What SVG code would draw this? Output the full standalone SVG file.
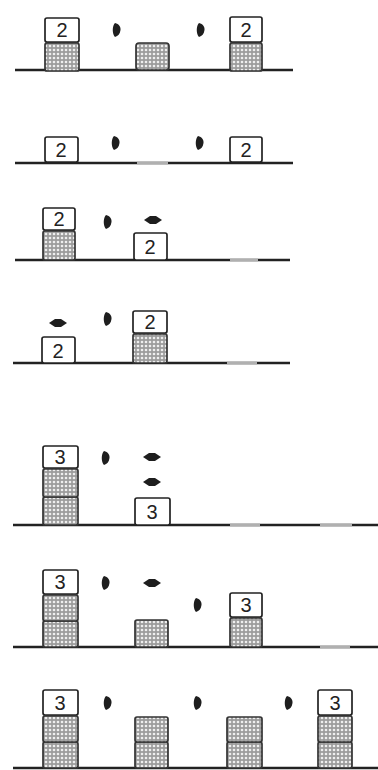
<svg xmlns="http://www.w3.org/2000/svg" width="378" height="770" viewBox="0 0 378 770">
<defs>
<pattern id="dots" width="4" height="4" patternUnits="userSpaceOnUse">
<rect width="4" height="4" fill="#9c9c9c"/>
<circle cx="2" cy="2" r="1.3" fill="#eeeeee"/>
</pattern>
<path id="vd" d="M-1,-7 C3,-6 5,-3 4.5,0 C4,4 2,6 -1,7 C-4,4 -4,-4 -1,-7 Z"/>
<polygon id="hd" points="-9,0 -3,-4 3,-4 9,0 3,4 -3,4"/>
</defs>
<style>
.lbl{fill:#fff;stroke:#222;stroke-width:1.7}
.dot{fill:url(#dots);stroke:#333;stroke-width:1.7}
.t{font-family:"Liberation Sans",Arial,sans-serif;font-size:20px;fill:#222;text-anchor:middle}
.base{stroke:#222;stroke-width:2.6;fill:none}
.gap{stroke:#b0b0b0;stroke-width:2.6;fill:none}
.mk{fill:#1e1e1e}
</style>
<rect width="378" height="770" fill="#fff"/>

<g id="baselines">
<line class="base" x1="15" y1="70" x2="293" y2="70"/>
<line class="base" x1="15" y1="163" x2="293" y2="163"/>
<line class="gap" x1="137" y1="163" x2="168" y2="163"/>
<line class="base" x1="15" y1="260" x2="290" y2="260"/>
<line class="gap" x1="230" y1="260" x2="258" y2="260"/>
<line class="base" x1="13" y1="363" x2="290" y2="363"/>
<line class="gap" x1="227" y1="363" x2="257" y2="363"/>
<line class="base" x1="13" y1="525" x2="378" y2="525"/>
<line class="gap" x1="230" y1="525" x2="260" y2="525"/>
<line class="gap" x1="320" y1="525" x2="352" y2="525"/>
<line class="base" x1="13" y1="647" x2="378" y2="647"/>
<line class="gap" x1="320" y1="647" x2="350" y2="647"/>
<line class="base" x1="13" y1="768" x2="378" y2="768"/>
</g>

<!-- Panel 1 -->
<g id="p1-left">
<rect class="dot" x="45" y="43" width="34" height="28" rx="2"/>
<rect class="lbl" x="45" y="18" width="34" height="24" rx="2"/>
<text class="t" x="62" y="37">2</text>
</g>
<g id="p1-mid"><rect class="dot" x="136" y="43" width="33" height="27" rx="3"/></g>
<g id="p1-right">
<rect class="dot" x="230" y="43" width="32" height="28" rx="2"/>
<rect class="lbl" x="230" y="17" width="32" height="25" rx="2"/>
<text class="t" x="246" y="37">2</text>
</g>
<g id="p1-m1"><use href="#vd" class="mk" x="116" y="30"/></g>
<g id="p1-m2"><use href="#vd" class="mk" x="200" y="30"/></g>

<!-- Panel 2 -->
<g id="p2-left">
<rect class="lbl" x="45" y="137" width="33" height="25" rx="2"/>
<text class="t" x="61" y="157">2</text>
</g>
<g id="p2-right">
<rect class="lbl" x="230" y="137" width="32" height="25" rx="2"/>
<text class="t" x="246" y="157">2</text>
</g>
<g id="p2-m1"><use href="#vd" class="mk" x="115" y="143"/></g>
<g id="p2-m2"><use href="#vd" class="mk" x="199" y="143"/></g>

<!-- Panel 3 -->
<g id="p3-left">
<rect class="dot" x="43" y="231" width="32" height="29" rx="2"/>
<rect class="lbl" x="43" y="208" width="32" height="22" rx="2"/>
<text class="t" x="59" y="226">2</text>
</g>
<g id="p3-mid">
<rect class="lbl" x="134" y="233" width="33" height="27" rx="2"/>
<text class="t" x="150" y="254">2</text>
</g>
<g id="p3-m1"><use href="#vd" class="mk" x="107" y="222"/></g>
<g id="p3-m2"><use href="#hd" class="mk" x="153" y="220"/></g>

<!-- Panel 4 -->
<g id="p4-left">
<rect class="lbl" x="42" y="337" width="33" height="26" rx="2"/>
<text class="t" x="58" y="358">2</text>
</g>
<g id="p4-mid">
<rect class="dot" x="133" y="334" width="34" height="29" rx="2"/>
<rect class="lbl" x="133" y="311" width="34" height="22" rx="2"/>
<text class="t" x="150" y="329">2</text>
</g>
<g id="p4-m1"><use href="#hd" class="mk" x="58" y="323"/></g>
<g id="p4-m2"><use href="#vd" class="mk" x="107" y="319"/></g>

<!-- Panel 5 -->
<g id="p5-left">
<rect class="dot" x="43" y="497" width="35" height="28" rx="2"/>
<rect class="dot" x="43" y="469" width="35" height="28" rx="2"/>
<rect class="lbl" x="43" y="446" width="35" height="22" rx="2"/>
<text class="t" x="60" y="464">3</text>
</g>
<g id="p5-mid">
<rect class="lbl" x="135" y="498" width="35" height="27" rx="2"/>
<text class="t" x="152" y="519">3</text>
</g>
<g id="p5-m1"><use href="#vd" class="mk" x="105" y="458"/></g>
<g id="p5-m2"><use href="#hd" class="mk" x="152" y="457"/></g>
<g id="p5-m3"><use href="#hd" class="mk" x="152" y="482"/></g>

<!-- Panel 6 -->
<g id="p6-left">
<rect class="dot" x="43" y="621" width="35" height="26" rx="2"/>
<rect class="dot" x="43" y="595" width="35" height="26" rx="2"/>
<rect class="lbl" x="43" y="570" width="35" height="24" rx="2"/>
<text class="t" x="60" y="589">3</text>
</g>
<g id="p6-mid"><rect class="dot" x="135" y="620" width="33" height="27" rx="2"/></g>
<g id="p6-right">
<rect class="dot" x="230" y="618" width="32" height="29" rx="2"/>
<rect class="lbl" x="230" y="593" width="32" height="24" rx="2"/>
<text class="t" x="246" y="612">3</text>
</g>
<g id="p6-m1"><use href="#vd" class="mk" x="105" y="583"/></g>
<g id="p6-m2"><use href="#hd" class="mk" x="152" y="583"/></g>
<g id="p6-m3"><use href="#vd" class="mk" x="197" y="605"/></g>

<!-- Panel 7 -->
<g id="p7-s1">
<rect class="dot" x="43" y="742" width="35" height="26" rx="2"/>
<rect class="dot" x="43" y="716" width="35" height="26" rx="2"/>
<rect class="lbl" x="43" y="690" width="35" height="25" rx="2"/>
<text class="t" x="60" y="710">3</text>
</g>
<g id="p7-s2">
<rect class="dot" x="135" y="742" width="33" height="26" rx="2"/>
<rect class="dot" x="135" y="717" width="33" height="25" rx="2"/>
</g>
<g id="p7-s3">
<rect class="dot" x="227" y="742" width="35" height="26" rx="2"/>
<rect class="dot" x="227" y="717" width="35" height="25" rx="2"/>
</g>
<g id="p7-s4">
<rect class="dot" x="318" y="742" width="34" height="26" rx="2"/>
<rect class="dot" x="318" y="716" width="34" height="26" rx="2"/>
<rect class="lbl" x="318" y="690" width="34" height="25" rx="2"/>
<text class="t" x="335" y="710">3</text>
</g>
<g id="p7-m1"><use href="#vd" class="mk" x="107" y="703"/></g>
<g id="p7-m2"><use href="#vd" class="mk" x="197" y="703"/></g>
<g id="p7-m3"><use href="#vd" class="mk" x="288" y="703"/></g>
</svg>
